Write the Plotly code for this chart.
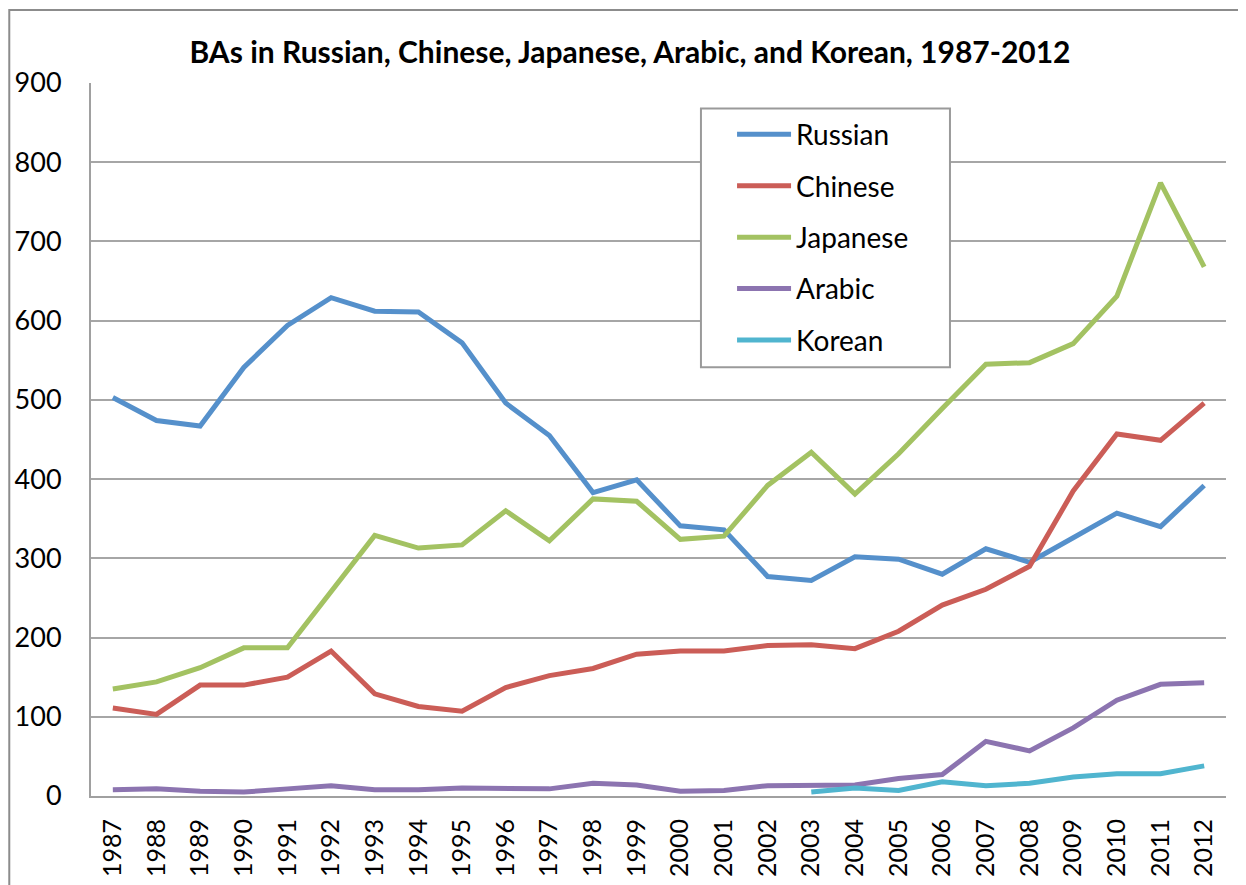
import plotly.graph_objects as go

years = [str(y) for y in range(1987, 2013)]

russian = [503, 474, 467, 541, 594, 629, 612, 611, 572, 496, 455, 383, 399, 341, 336,
           277, 272, 302, 299, 280, 312, 295, 326, 357, 340, 392]
chinese = [111, 103, 140, 140, 150, 183, 129, 113, 107, 137, 152, 161, 179, 183, 183,
           190, 191, 186, 208, 241, 261, 290, 385, 457, 449, 496]
japanese = [135, 144, 162, 187, 187, 258, 329, 313, 317, 360, 322, 375, 372, 324, 328,
            392, 434, 381, 432, 489, 545, 547, 571, 631, 774, 668]
arabic = [8, 9, 6, 5, 9, 13, 8, 8, 10, 10, 9, 16, 14, 6, 7,
          13, 13, 14, 22, 27, 69, 57, 86, 121, 141, 143]
korean_years = [str(y) for y in range(2003, 2013)]
korean = [5, 10, 7, 18, 13, 16, 24, 28, 28, 38]

series = [
    ("Russian", years, russian, "#5590CB"),
    ("Chinese", years, chinese, "#CB5D57"),
    ("Japanese", years, japanese, "#A3C262"),
    ("Arabic", years, arabic, "#8C74B0"),
    ("Korean", korean_years, korean, "#50B5CF"),
]

font = "Lato, 'Open Sans', sans-serif"

fig = go.Figure()
for name, xs, ys, col in series:
    fig.add_trace(go.Scatter(x=xs, y=ys, name=name, mode="lines",
                             line=dict(color=col, width=5),
                             legendgroup=name))

# figure is placed by the page at (8, 8); sizes compensate for that offset
fig.update_layout(
    width=1238, height=877,
    margin=dict(l=83, r=20, t=75, b=89),
    paper_bgcolor="white", plot_bgcolor="white",
    title=dict(text="<b>BAs in Russian, Chinese, Japanese, Arabic, and Korean, 1987-2012</b>",
               x=0.5024, xanchor="center", y=0.9498, yanchor="middle",
               font=dict(family=font, size=30, color="black")),
    font=dict(family=font, color="black"),
    showlegend=True,
    legend=dict(x=0.5648, y=0.9626, xanchor="left", yanchor="top",
                borderwidth=0, bgcolor="rgba(0,0,0,0)",
                font=dict(size=28, family=font), tracegroupgap=12,
                itemwidth=54),
    xaxis=dict(type="category", categoryorder="array", categoryarray=years,
               tickangle=-90, tickfont=dict(size=25, family=font),
               showline=True, linecolor="#A0A0A0", linewidth=2,
               showgrid=False, ticks="", ticklabelstandoff=11,
               automargin=False, range=[-0.5, 25.5]),
    yaxis=dict(range=[0, 900], dtick=100, tickfont=dict(size=27, family=font),
               showline=True, linecolor="#A0A0A0", linewidth=2,
               showgrid=True, gridcolor="#A6A6A6", gridwidth=2,
               ticks="", ticklabelstandoff=22, automargin=False, zeroline=False),
)

# legend frame
fig.add_shape(type="rect", xref="paper", yref="paper",
              x0=0.5374, x1=0.7568, y0=0.6014, y1=0.9643,
              line=dict(color="#9A9A9A", width=2), fillcolor="white", layer="above")

# outer chart border (top and left edges visible)
fig.add_shape(type="rect", xref="paper", yref="paper",
              x0=-0.072, x1=1.05, y0=-0.2, y1=1.1024,
              line=dict(color="#8C8C8C", width=2), layer="below")

fig.write_html("out.html")
